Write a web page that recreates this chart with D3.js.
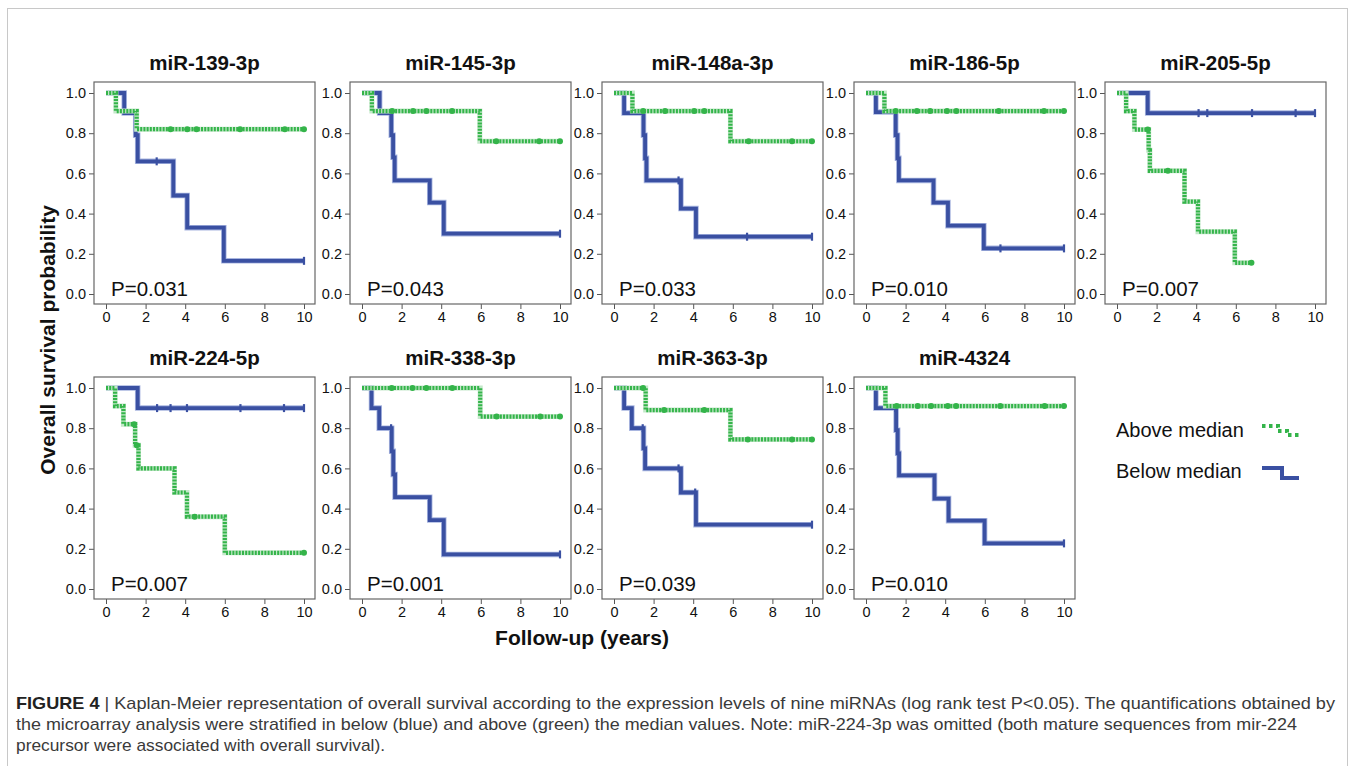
<!DOCTYPE html>
<html>
<head>
<meta charset="utf-8">
<script src="https://cdn.jsdelivr.net/npm/d3@7"></script>
<style>
body { margin: 0; background: #fff; }
text { font-family: "Liberation Sans", Arial, sans-serif; }
</style>
</head>
<body>
<div id="chart"></div>
<script>
// one entry per panel
var mirnas = ["miR-139-3p", "miR-145-3p", "miR-148a-3p", "miR-186-5p", "miR-205-5p",
              "miR-224-5p", "miR-338-3p", "miR-363-3p", "miR-4324"];
var pValues = ["0.031", "0.043", "0.033", "0.010", "0.007", "0.007", "0.001", "0.039", "0.010"];

// below median (blue): event times, survival after each event, censor times
var belowTimes = [
    [0.92, 1.5, 1.6, 3.4, 4.1, 5.95],
    [0.89, 1.48, 1.57, 1.65, 3.42, 4.13],
    [0.51, 1.49, 1.57, 1.64, 3.38, 4.14],
    [0.5, 1.5, 1.59, 1.66, 3.41, 4.14, 5.95],
    [1.55],
    [1.6],
    [0.48, 0.87, 1.5, 1.58, 1.67, 3.42, 4.13],
    [0.51, 0.9, 1.49, 1.57, 3.38, 4.14],
    [0.5, 1.52, 1.6, 1.67, 3.46, 4.17, 5.99]
];
var belowSurv = [
    [0.90, 0.79, 0.66, 0.49, 0.33, 0.165],
    [0.90, 0.79, 0.68, 0.565, 0.455, 0.30],
    [0.90, 0.79, 0.675, 0.565, 0.425, 0.285],
    [0.905, 0.79, 0.675, 0.565, 0.455, 0.34, 0.227],
    [0.90],
    [0.90],
    [0.90, 0.80, 0.685, 0.57, 0.457, 0.343, 0.172],
    [0.90, 0.80, 0.70, 0.60, 0.48, 0.32],
    [0.90, 0.79, 0.675, 0.565, 0.45, 0.34, 0.227]
];
var belowCensor = [
    [1.48, 2.56, 10],
    [10],
    [3.26, 6.72, 10],
    [6.79, 10],
    [4.12, 4.56, 6.82, 9.02, 10],
    [2.58, 3.26, 4.09, 6.79, 8.99, 10],
    [1.47, 10],
    [1.45, 3.26, 4.1, 10],
    [1.48, 10]
];

// above median (green)
var aboveTimes = [
    [0.5, 1.55],
    [0.5, 5.95],
    [0.93, 5.88],
    [0.93],
    [0.46, 0.88, 1.6, 1.66, 3.41, 4.09, 5.95],
    [0.46, 0.88, 1.47, 1.64, 3.46, 4.09, 6.0],
    [5.97],
    [1.6, 5.88],
    [0.98]
];
var aboveSurv = [
    [0.91, 0.82],
    [0.91, 0.76],
    [0.91, 0.76],
    [0.91],
    [0.91, 0.818, 0.715, 0.613, 0.46, 0.31, 0.155],
    [0.91, 0.82, 0.715, 0.60, 0.48, 0.36, 0.18],
    [0.858],
    [0.89, 0.744],
    [0.91]
];
var aboveCensor = [
    [3.26, 4.1, 4.57, 6.77, 9.03, 10],
    [1.52, 2.58, 3.25, 4.55, 6.78, 8.95, 10],
    [1.47, 2.58, 4.05, 4.56, 6.8, 8.99, 10],
    [1.5, 2.57, 3.24, 4.09, 4.56, 6.7, 8.99, 10],
    [1.55, 2.57, 6.79],
    [1.42, 1.55, 4.48, 10],
    [1.5, 2.55, 3.25, 4.56, 6.8, 9.0, 10],
    [1.47, 2.53, 4.56, 6.76, 8.99, 10],
    [1.55, 2.61, 3.29, 4.13, 4.55, 6.78, 9.02, 10]
];

var xTicks = [0, 2, 4, 6, 8, 10];
var yTicks = [0, 0.2, 0.4, 0.6, 0.8, 1.0];
var legendLabels = ["Above median", "Below median"];

var captionLines = [
    ["FIGURE 4", " | Kaplan-Meier representation of overall survival according to the expression levels of nine miRNAs (log rank test P<0.05). The quantifications obtained by"],
    ["", "the microarray analysis were stratified in below (blue) and above (green) the median values. Note: miR-224-3p was omitted (both mature sequences from mir-224"],
    ["", "precursor were associated with overall survival)."]
];

function survAt(times, surv, t) {
    var s = 1;
    for (var i = 0; i < times.length; i++) {
        if (times[i] <= t) s = surv[i];
    }
    return s;
}

function init() {
    var w = 1355;
    var h = 766;
    var blue = "#3a50a2";
    var green = "#34b44a";

    var colLeft = [94, 350, 602, 854, 1105];
    var rowTop = [82, 377];
    var boxW = 221;
    var boxH = 222;

    var svg = d3.select("#chart")
                .append("svg")
                .attr("width", w)
                .attr("height", h);

    // outer frame
    svg.append("rect")
        .attr("x", 7.5).attr("y", 8.5)
        .attr("width", 1340).attr("height", 800)
        .attr("fill", "none")
        .attr("stroke", "#c8c8c8");

    mirnas.forEach(function(name, i) {
        var left = colLeft[i % 5];
        var top = rowTop[i < 5 ? 0 : 1];

        var x = d3.scaleLinear().domain([0, 10]).range([left + 12, left + 210]);
        var y = d3.scaleLinear().domain([0, 1]).range([top + boxH - 10, top + 11]);

        var g = svg.append("g");

        g.append("text")
            .attr("x", left + boxW / 2)
            .attr("y", top - 12)
            .attr("text-anchor", "middle")
            .attr("font-size", "20.5px")
            .attr("font-weight", "bold")
            .attr("fill", "#111")
            .text(name);

        var xAxis = d3.axisBottom(x).tickValues(xTicks).tickSize(5).tickPadding(3)
                      .tickFormat(d3.format("d"));
        var yAxis = d3.axisLeft(y).tickValues(yTicks).tickSize(5).tickPadding(3)
                      .tickFormat(d3.format(".1f"));

        g.append("g")
            .attr("transform", "translate(0," + (top + boxH) + ")")
            .call(xAxis)
            .call(function(a) {
                a.select(".domain").remove();
                a.selectAll("line").attr("stroke", "#555");
                a.selectAll("text").attr("font-size", "14.5px").attr("fill", "#111")
                    .attr("font-family", "Liberation Sans, Arial, sans-serif");
            });

        g.append("g")
            .attr("transform", "translate(" + left + ",0)")
            .call(yAxis)
            .call(function(a) {
                a.select(".domain").remove();
                a.selectAll("line").attr("stroke", "#555");
                a.selectAll("text").attr("font-size", "14.5px").attr("fill", "#111")
                    .attr("font-family", "Liberation Sans, Arial, sans-serif");
            });

        g.append("rect")
            .attr("x", left).attr("y", top)
            .attr("width", boxW).attr("height", boxH)
            .attr("fill", "none")
            .attr("stroke", "#666")
            .attr("stroke-width", 1.2);

        var line = d3.line()
                    .x(function(d) { return x(d[0]); })
                    .y(function(d) { return y(d[1]); })
                    .curve(d3.curveStepAfter);

        function pts(times, surv, cens) {
            var p = [[0, 1]];
            times.forEach(function(t, k) { p.push([t, surv[k]]); });
            var end = d3.max(cens.concat(times));
            p.push([end, surv.length ? surv[surv.length - 1] : 1]);
            return p;
        }

        var bp = pts(belowTimes[i], belowSurv[i], belowCensor[i]);
        var ap = pts(aboveTimes[i], aboveSurv[i], aboveCensor[i]);

        // below median: solid blue with soft halo
        g.append("path").attr("d", line(bp))
            .attr("fill", "none").attr("stroke", "#a9b6e0").attr("stroke-width", 5.5);
        g.append("path").attr("d", line(bp))
            .attr("fill", "none").attr("stroke", blue).attr("stroke-width", 3.8);

        g.selectAll(".cb")
            .data(belowCensor[i])
            .enter()
            .append("line")
            .attr("x1", function(d) { return x(d); })
            .attr("x2", function(d) { return x(d); })
            .attr("y1", function(d) { return y(survAt(belowTimes[i], belowSurv[i], d)) - 4; })
            .attr("y2", function(d) { return y(survAt(belowTimes[i], belowSurv[i], d)) + 4; })
            .attr("stroke", blue)
            .attr("stroke-width", 2.2);

        // above median: dotted green
        g.append("path").attr("d", line(ap))
            .attr("fill", "none").attr("stroke", "#c3e8c9").attr("stroke-width", 5);
        g.append("path").attr("d", line(ap))
            .attr("fill", "none").attr("stroke", green).attr("stroke-width", 4.2)
            .attr("stroke-dasharray", "2,1.2");

        g.selectAll(".ca")
            .data(aboveCensor[i])
            .enter()
            .append("circle")
            .attr("cx", function(d) { return x(d); })
            .attr("cy", function(d) { return y(survAt(aboveTimes[i], aboveSurv[i], d)); })
            .attr("r", 3)
            .attr("fill", green);

        g.append("text")
            .attr("x", left + 17)
            .attr("y", top + boxH - 8)
            .attr("font-size", "20.5px")
            .attr("fill", "#111")
            .text("P=" + pValues[i]);
    });

    // axis titles
    svg.append("text")
        .attr("transform", "translate(47,340) rotate(-90)")
        .attr("text-anchor", "middle")
        .attr("dominant-baseline", "central")
        .attr("font-size", "21px")
        .attr("font-weight", "bold")
        .attr("fill", "#111")
        .text("Overall survival probability");

    svg.append("text")
        .attr("x", 582)
        .attr("y", 645)
        .attr("text-anchor", "middle")
        .attr("font-size", "21px")
        .attr("font-weight", "bold")
        .attr("fill", "#111")
        .text("Follow-up (years)");

    // legend
    var leg = svg.append("g");
    leg.append("text").attr("x", 1116).attr("y", 437)
        .attr("font-size", "20px").attr("fill", "#111").text(legendLabels[0]);
    leg.append("text").attr("x", 1116).attr("y", 478)
        .attr("font-size", "20px").attr("fill", "#111").text(legendLabels[1]);
    leg.append("path")
        .attr("d", "M1262,426 H1278 V431 H1287 V435 H1299")
        .attr("fill", "none").attr("stroke", green).attr("stroke-width", 4)
        .attr("stroke-dasharray", "3.5,3.5");
    leg.append("path")
        .attr("d", "M1262,468 H1282 V478 H1299")
        .attr("fill", "none").attr("stroke", blue).attr("stroke-width", 4);

    // caption, condensed to the reference line widths
    var widths = [1319, 1281, 369];
    captionLines.forEach(function(ln, k) {
        var t = svg.append("text")
            .attr("x", 16)
            .attr("y", 709 + k * 21)
            .attr("font-size", "17px")
            .attr("fill", "#3a3a3a")
            .attr("textLength", widths[k])
            .attr("lengthAdjust", "spacingAndGlyphs");
        if (ln[0]) {
            t.append("tspan").attr("font-weight", "bold").attr("fill", "#222").text(ln[0]);
        }
        t.append("tspan").text(ln[1]);
    });
}

window.onload = init;
</script>
</body>
</html>
